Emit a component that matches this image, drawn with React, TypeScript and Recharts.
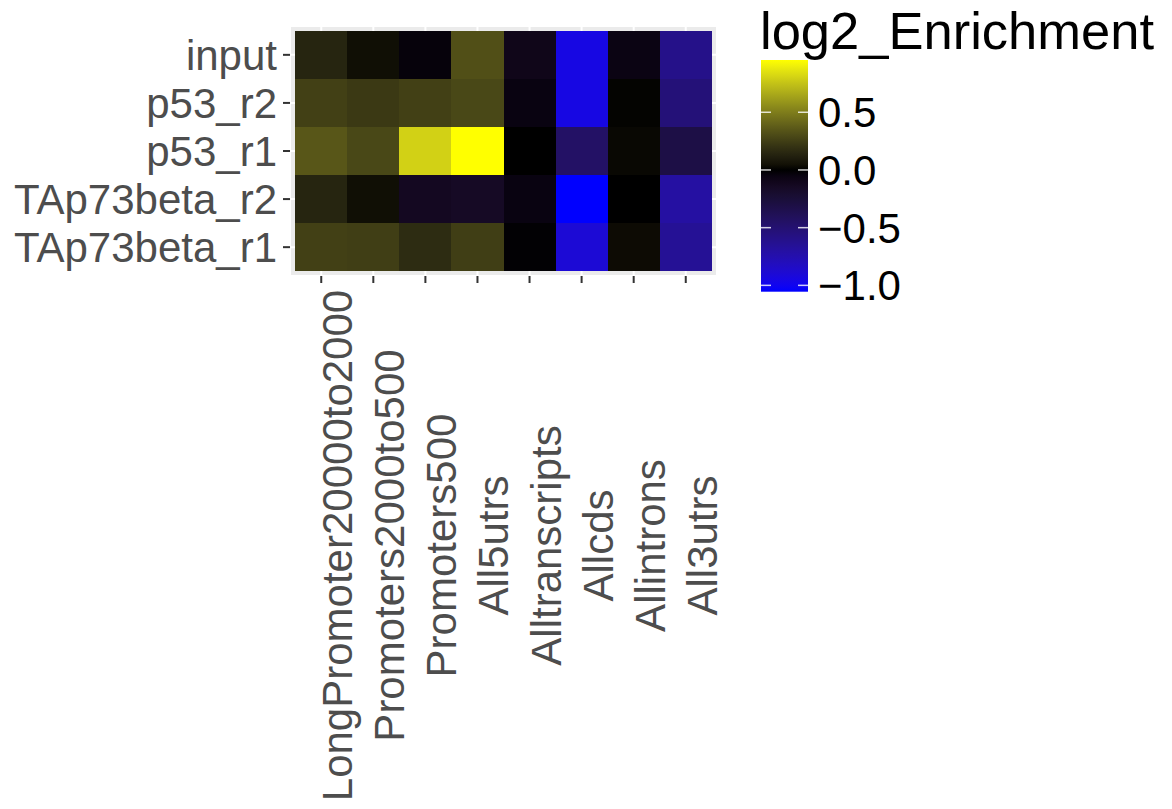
import { ScatterChart, Scatter, XAxis, YAxis, CartesianGrid } from 'recharts';

const categories = [
  'LongPromoter20000to2000',
  'Promoters2000to500',
  'Promoters500',
  'All5utrs',
  'Alltranscripts',
  'Allcds',
  'Allintrons',
  'All3utrs',
];
const samples = ['input', 'p53_r2', 'p53_r1', 'TAp73beta_r2', 'TAp73beta_r1'];

// log2 enrichment per sample, in category order
const input = [0.14, 0.04, -0.03, 0.32, -0.09, -0.95, -0.06, -0.6];
const p53_r2 = [0.26, 0.23, 0.26, 0.29, -0.05, -0.95, 0.01, -0.53];
const p53_r1 = [0.35, 0.29, 0.8, 0.953, 0.0, -0.45, 0.02, -0.31];
const TAp73beta_r2 = [0.14, 0.04, -0.13, -0.15, -0.05, -1.055, 0.0, -0.7];
const TAp73beta_r1 = [0.26, 0.25, 0.17, 0.25, -0.01, -0.9, 0.03, -0.65];
const rows = [input, p53_r2, p53_r1, TAp73beta_r2, TAp73beta_r1];

const legendBreaks = [0.5, 0.0, -0.5, -1.0];
const VMIN = -1.055;
const VMAX = 0.953;

const W = 1172;
const H = 809;
const PLOT_L = 290;
const PLOT_R = 717;
const PLOT_T = 26;
const PLOT_B = 276;
const CELL_W = (PLOT_R - PLOT_L) / 8.2;
const CELL_H = (PLOT_B - PLOT_T) / 5.2;
const FONT = '"Liberation Sans", Arial, sans-serif';

const data = rows.flatMap((vals, r) =>
  vals.map((v, c) => ({ x: c + 1, y: r + 1, value: v }))
);

// Lab interpolation like ggplot's gradient
const BLUE = [32.3, 79.19, -107.86];
const YELLOW = [97.14, -21.55, 94.48];

function labToHex(L: number, a: number, b: number) {
  const fy = (L + 16) / 116;
  const fx = fy + a / 500;
  const fz = fy - b / 200;
  const inv = (t: number) => (t ** 3 > 0.008856 ? t ** 3 : (t - 16 / 116) / 7.787);
  const X = 0.95047 * inv(fx);
  const Y = inv(fy);
  const Z = 1.08883 * inv(fz);
  const lin = [
    3.2406 * X - 1.5372 * Y - 0.4986 * Z,
    -0.9689 * X + 1.8758 * Y + 0.0415 * Z,
    0.0557 * X - 0.204 * Y + 1.057 * Z,
  ];
  return (
    '#' +
    lin
      .map((c) => {
        const v = Math.min(1, Math.max(0, c));
        const s = v <= 0.0031308 ? 12.92 * v : 1.055 * v ** (1 / 2.4) - 0.055;
        return Math.round(s * 255).toString(16).padStart(2, '0');
      })
      .join('')
  );
}

function colorFor(v: number) {
  const end = v >= 0 ? YELLOW : BLUE;
  const t = Math.min(1, v >= 0 ? v / VMAX : v / VMIN);
  return labToHex(end[0] * t, end[1] * t, end[2] * t);
}

const Tile = (props: any) => {
  const { cx, cy } = props;
  const value = props.payload?.value ?? props.value;
  return (
    <rect
      x={cx - CELL_W / 2}
      y={cy - CELL_H / 2}
      width={CELL_W}
      height={CELL_H}
      fill={colorFor(value)}
      shapeRendering="crispEdges"
    />
  );
};

const XTick = (props: any) => {
  const { x, payload } = props;
  return (
    <text
      transform={`translate(${x + 31}, 545.5) rotate(-90)`}
      textAnchor="middle"
      fontSize={42}
      fontFamily={FONT}
      fill="#4D4D4D"
    >
      {categories[payload.value - 1]}
    </text>
  );
};

const YTick = (props: any) => {
  const { x, y, payload } = props;
  return (
    <text x={x} y={y} dy="0.355em" textAnchor="end" fontSize={42} fontFamily={FONT} fill="#4D4D4D">
      {samples[payload.value - 1]}
    </text>
  );
};

function ColorBar() {
  const top = 60;
  const bottom = 291.7;
  const left = 761;
  const right = 808;
  const yOf = (v: number) => top + ((VMAX - v) / (VMAX - VMIN)) * (bottom - top);
  const stops = Array.from({ length: 41 }, (_, i) => {
    const v = VMAX - (i / 40) * (VMAX - VMIN);
    return { off: i / 40, color: colorFor(v) };
  });
  return (
    <svg width={W} height={H} style={{ position: 'absolute', left: 0, top: 0, pointerEvents: 'none' }}>
      <defs>
        <linearGradient id="cbar" x1="0" y1="0" x2="0" y2="1">
          {stops.map((s, i) => (
            <stop key={i} offset={s.off} stopColor={s.color} />
          ))}
        </linearGradient>
      </defs>
      <text x={760} y={49} fontSize={52.5} fontFamily={FONT} fill="#000">
        log2_Enrichment
      </text>
      <rect x={left} y={top} width={right - left} height={bottom - top} fill="url(#cbar)" />
      {legendBreaks.map((b) => (
        <g key={b}>
          <line x1={left} x2={left + 10} y1={yOf(b)} y2={yOf(b)} stroke="#fff" strokeWidth={1.5} strokeOpacity={0.8} />
          <line x1={right - 10} x2={right} y1={yOf(b)} y2={yOf(b)} stroke="#fff" strokeWidth={1.5} strokeOpacity={0.8} />
          <text x={818} y={yOf(b)} dy="0.355em" fontSize={42} fontFamily={FONT} fill="#000">
            {b < 0 ? '\u2212' + Math.abs(b).toFixed(1) : b.toFixed(1)}
          </text>
        </g>
      ))}
    </svg>
  );
}

export default function App() {
  return (
    <div style={{ position: 'absolute', left: 0, top: 0, width: W, height: H, background: '#fff' }}>
      <ScatterChart
        width={W}
        height={H}
        margin={{ top: PLOT_T, right: W - PLOT_R, left: 0, bottom: 0 }}
      >
        <CartesianGrid
          fill="#EBEBEB"
          fillOpacity={1}
          stroke="#FFFFFF"
          strokeWidth={2}
        />
        <XAxis
          type="number"
          dataKey="x"
          domain={[0.4, 8.6]}
          ticks={[1, 2, 3, 4, 5, 6, 7, 8]}
          interval={0}
          allowDataOverflow
          height={H - PLOT_B}
          axisLine={false}
          tickSize={7}
          tickLine={{ stroke: '#333333', strokeWidth: 2 }}
          tick={<XTick />}
        />
        <YAxis
          type="number"
          dataKey="y"
          domain={[0.4, 5.6]}
          ticks={[1, 2, 3, 4, 5]}
          interval={0}
          reversed
          allowDataOverflow
          width={PLOT_L}
          axisLine={false}
          tickSize={7}
          tickMargin={6}
          tickLine={{ stroke: '#333333', strokeWidth: 2 }}
          tick={<YTick />}
        />
        <Scatter data={data} shape={<Tile />} isAnimationActive={false} />
      </ScatterChart>
      <ColorBar />
    </div>
  );
}
